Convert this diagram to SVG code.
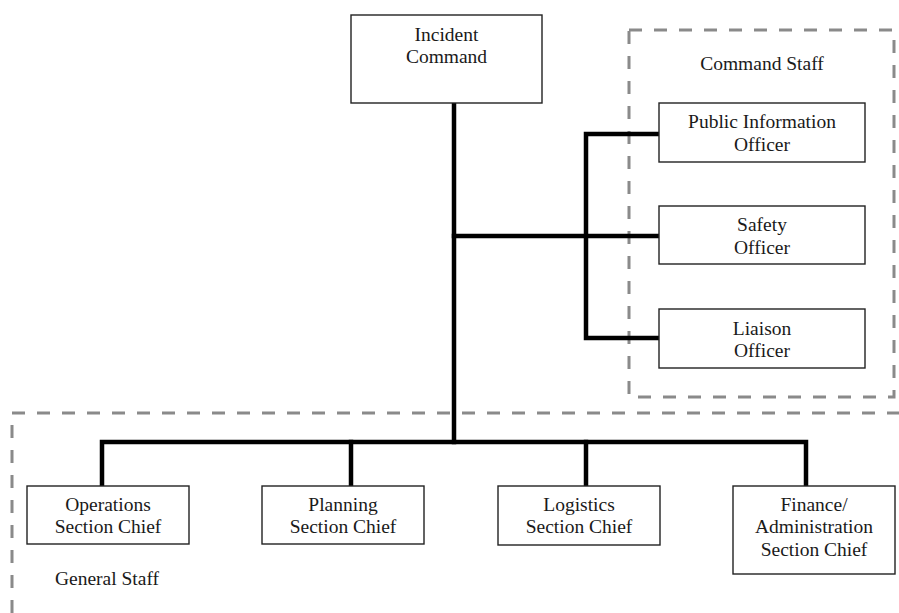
<svg xmlns="http://www.w3.org/2000/svg" width="899" height="613" viewBox="0 0 899 613">
<style>
.bg{fill:#fff}
.box{fill:#fff;stroke:#222;stroke-width:1.4}
.grp{fill:none;stroke:#8a8a8a;stroke-width:3;stroke-dasharray:13 12}
.conn{fill:none;stroke:#000;stroke-width:4.5;stroke-linejoin:miter;stroke-linecap:square}
text{font-family:"Liberation Serif","Times New Roman",serif;font-size:19.5px;fill:#1a1a1a;text-anchor:middle}
</style>
<rect class="bg" x="0" y="0" width="899" height="613"/>
<g id="groups">
<rect id="command-staff-area" class="grp" x="629" y="30" width="265" height="367"/>
<path id="general-staff-area" class="grp" d="M12,613 V413 H905"/>
<text x="762" y="70">Command Staff</text>
<text x="107" y="585">General Staff</text>
</g>
<g id="connectors">
<path class="conn" d="M454,103 V442"/>
<path class="conn" d="M454,236 H659"/>
<path class="conn" d="M659,134 H586 V338 H659"/>
<path class="conn" d="M102,486 V442 H806 V486"/>
<path class="conn" d="M351,442 V486"/>
<path class="conn" d="M586,442 V486"/>
</g>
<g id="incident-command">
<rect class="box" x="351" y="15" width="191" height="88"/>
<text x="446.5" y="41">Incident</text>
<text x="446.5" y="63">Command</text>
</g>
<g id="public-information-officer">
<rect class="box" x="659" y="103" width="206" height="59"/>
<text x="762" y="128">Public Information</text>
<text x="762" y="151">Officer</text>
</g>
<g id="safety-officer">
<rect class="box" x="659" y="206" width="206" height="58"/>
<text x="762" y="231">Safety</text>
<text x="762" y="254">Officer</text>
</g>
<g id="liaison-officer">
<rect class="box" x="659" y="309" width="206" height="59"/>
<text x="762" y="335">Liaison</text>
<text x="762" y="357">Officer</text>
</g>
<g id="operations-section-chief">
<rect class="box" x="27" y="486" width="162" height="58"/>
<text x="108" y="511">Operations</text>
<text x="108" y="533">Section Chief</text>
</g>
<g id="planning-section-chief">
<rect class="box" x="262" y="486" width="162" height="58"/>
<text x="343" y="511">Planning</text>
<text x="343" y="533">Section Chief</text>
</g>
<g id="logistics-section-chief">
<rect class="box" x="498" y="486" width="162" height="59"/>
<text x="579" y="511">Logistics</text>
<text x="579" y="533">Section Chief</text>
</g>
<g id="finance-administration-section-chief">
<rect class="box" x="733" y="486" width="162" height="88"/>
<text x="814" y="511">Finance/</text>
<text x="814" y="533">Administration</text>
<text x="814" y="556">Section Chief</text>
</g>
</svg>
